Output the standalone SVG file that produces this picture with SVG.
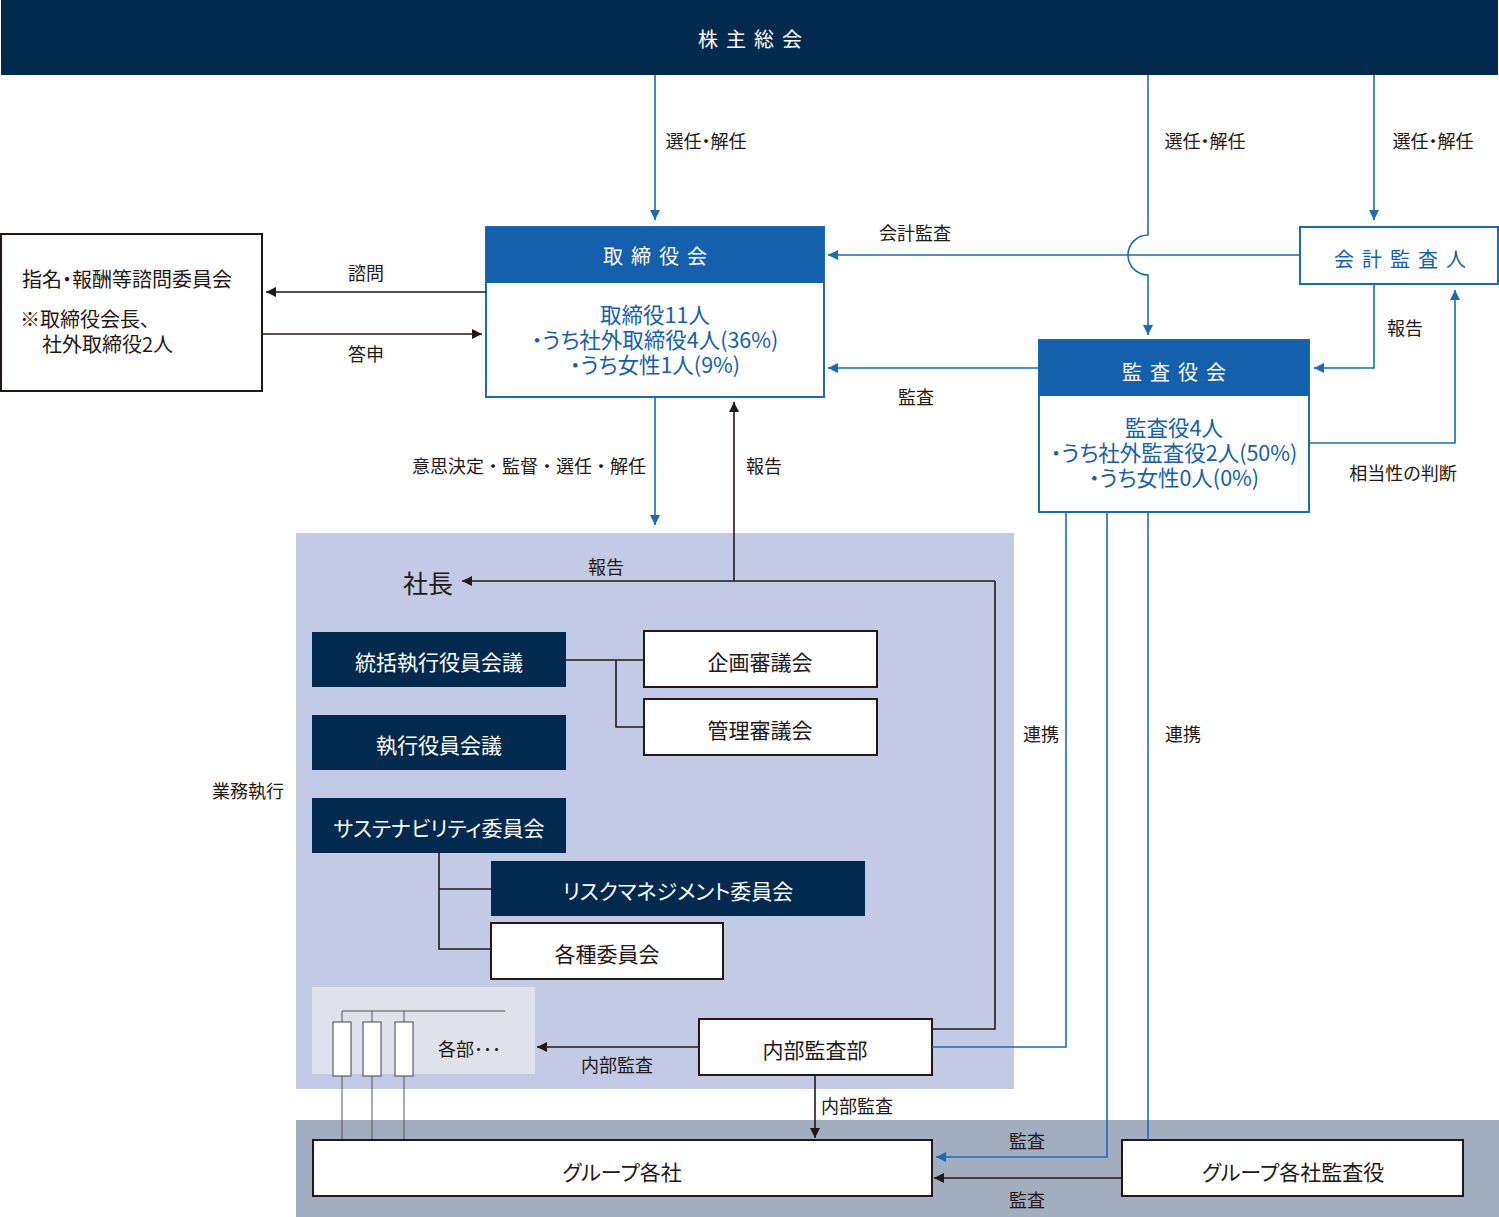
<svg xmlns="http://www.w3.org/2000/svg" width="1499" height="1217" viewBox="0 0 1499 1217">
<defs>
<style>
text{font-family:"Noto Sans CJK JP","Noto Sans",sans-serif;dominant-baseline:central;font-feature-settings:"palt";}
.lbl{font-size:18px;fill:#231815;}
.mid{text-anchor:middle;}
.wt{fill:#fff;}
.bt{fill:#1560ad;}
.bk{fill:#231815;}
.bx{font-size:21px;}
.bd{font-size:21.5px;}
.hd{font-size:20px;letter-spacing:8px;}
.bl{stroke:#1a6ab8;stroke-width:1.6;fill:none;}
.blk{stroke:#231815;stroke-width:1.6;fill:none;}
.gr{stroke:#555;stroke-width:1;fill:none;}
.navy{fill:#022a4f;}
.wbox{fill:#fff;stroke:#231815;stroke-width:2;}
</style>
<marker id="ab" viewBox="0 0 10 10" refX="10" refY="5" markerWidth="10" markerHeight="10" markerUnits="userSpaceOnUse" orient="auto"><path d="M0,0 L10,5 L0,10 z" fill="#1a6ab8"/></marker>
<marker id="ak" viewBox="0 0 10 10" refX="10" refY="5" markerWidth="10" markerHeight="10" markerUnits="userSpaceOnUse" orient="auto"><path d="M0,0 L10,5 L0,10 z" fill="#231815"/></marker>
</defs>
<rect width="1499" height="1217" fill="#fff"/>
<g id="bg-exec"><rect x="296" y="533" width="718" height="556" fill="#c3cae6"/></g>
<g id="bg-group"><rect x="296" y="1120" width="1203" height="97" fill="#a3adc0"/></g>
<g id="bg-depts"><rect x="312" y="987" width="223" height="87" fill="#dfe2ea"/></g>

<g id="n-shareholders"><rect x="1" y="0" width="1497" height="75" class="navy"/><text x="754" y="38" class="mid wt hd">株主総会</text></g>

<g id="n-board">
<rect x="486" y="227" width="338" height="170" fill="#fff" stroke="#1a6ab8" stroke-width="2"/>
<rect x="486" y="227" width="338" height="56" fill="#1560ad"/>
<text x="659" y="255" class="mid wt hd">取締役会</text>
<text x="655" y="313" class="mid bt bd">取締役11人</text>
<text x="655" y="338" class="mid bt bd">・うち社外取締役4人(36%)</text>
<text x="655" y="363" class="mid bt bd">・うち女性1人(9%)</text>
</g>

<g id="n-nomination">
<rect x="1" y="234" width="261" height="157" class="wbox"/>
<text x="22" y="278" class="bk" font-size="20">指名・報酬等諮問委員会</text>
<text x="20" y="318" class="bk" font-size="20">※取締役会長、</text>
<text x="42" y="343" class="bk" font-size="20">社外取締役2人</text>
</g>

<g id="n-accountant">
<rect x="1300" y="227" width="198" height="57" fill="#fff" stroke="#1a6ab8" stroke-width="2"/>
<text x="1404" y="258" class="mid bt hd">会計監査人</text>
</g>

<g id="n-auditboard">
<rect x="1039" y="340" width="270" height="172" fill="#fff" stroke="#1a6ab8" stroke-width="2"/>
<rect x="1039" y="340" width="270" height="56" fill="#1560ad"/>
<text x="1178" y="371" class="mid wt hd">監査役会</text>
<text x="1174" y="426" class="mid bt bd">監査役4人</text>
<text x="1174" y="451" class="mid bt bd">・うち社外監査役2人(50%)</text>
<text x="1174" y="476" class="mid bt bd">・うち女性0人(0%)</text>
</g>

<g id="n-president"><text x="403" y="582" class="bk" font-size="25">社長</text></g>

<g id="n-exec1"><rect x="312" y="632" width="254" height="55" class="navy"/><text x="439" y="661" class="mid wt bx">統括執行役員会議</text></g>
<g id="n-exec2"><rect x="312" y="715" width="254" height="55" class="navy"/><text x="439" y="744" class="mid wt bx">執行役員会議</text></g>
<g id="n-sust"><rect x="312" y="798" width="254" height="55" class="navy"/><text x="439" y="827" class="mid wt bx">サステナビリティ委員会</text></g>
<g id="n-risk"><rect x="491" y="861" width="374" height="55" class="navy"/><text x="678" y="890" class="mid wt bx">リスクマネジメント委員会</text></g>
<g id="n-plan"><rect x="644" y="631" width="233" height="56" class="wbox"/><text x="760" y="661" class="mid bk bx">企画審議会</text></g>
<g id="n-mgmt"><rect x="644" y="699" width="233" height="56" class="wbox"/><text x="760" y="729" class="mid bk bx">管理審議会</text></g>
<g id="n-various"><rect x="491" y="923" width="232" height="56" class="wbox"/><text x="607" y="953" class="mid bk bx">各種委員会</text></g>

<g id="n-depts">
<path class="gr" d="M342,1011 H505 M342,1011 V1022 M372,1011 V1022 M404,1011 V1022 M342,1076 V1140 M372,1076 V1140 M404,1076 V1140"/>
<rect x="333" y="1022" width="18" height="54" fill="#fff" stroke="#444" stroke-width="1"/>
<rect x="363" y="1022" width="18" height="54" fill="#fff" stroke="#444" stroke-width="1"/>
<rect x="395" y="1022" width="18" height="54" fill="#fff" stroke="#444" stroke-width="1"/>
<text x="438" y="1048" class="bk" font-size="18">各部･･･</text>
</g>

<g id="n-internalaudit"><rect x="699" y="1019" width="233" height="56" class="wbox"/><text x="815" y="1049" class="mid bk bx">内部監査部</text></g>
<g id="n-group"><rect x="313" y="1140" width="619" height="56" class="wbox"/><text x="622" y="1171" class="mid bk bx">グループ各社</text></g>
<g id="n-groupaudit"><rect x="1122" y="1140" width="341" height="56" class="wbox"/><text x="1293" y="1171" class="mid bk bx">グループ各社監査役</text></g>

<g id="connectors">
<path class="bl" d="M655,75 V220" marker-end="url(#ab)"/>
<path class="bl" d="M1148,75 V235 A20,20 0 0 0 1148,275 V335" marker-end="url(#ab)"/>
<path class="bl" d="M1374,75 V220" marker-end="url(#ab)"/>
<path class="blk" d="M486,292 H266" marker-end="url(#ak)"/>
<path class="blk" d="M262,334 H482" marker-end="url(#ak)"/>
<path class="bl" d="M1300,255 H828" marker-end="url(#ab)"/>
<path class="bl" d="M1039,368 H828" marker-end="url(#ab)"/>
<path class="bl" d="M1374,284 V368 H1314" marker-end="url(#ab)"/>
<path class="bl" d="M1309,443 H1455 V290" marker-end="url(#ab)"/>
<path class="bl" d="M655,397 V525" marker-end="url(#ab)"/>
<path class="blk" d="M734,581 V402" marker-end="url(#ak)"/>
<path class="blk" d="M995,581 H462" marker-end="url(#ak)"/>
<path class="blk" d="M995,581 V1029 H932"/>
<path class="blk" d="M566,660 H644 M616,660 V727 H644"/>
<path class="blk" d="M439,853 V949 H491 M439,889 H491"/>
<path class="blk" d="M699,1047 H537" marker-end="url(#ak)"/>
<path class="blk" d="M815,1075 V1138" marker-end="url(#ak)"/>
<path class="bl" d="M932,1047 H1066 V512"/>
<path class="bl" d="M1107,512 V1157 H936" marker-end="url(#ab)"/>
<path class="bl" d="M1148,512 V1140"/>
<path class="blk" d="M1122,1178 H934" marker-end="url(#ak)"/>
<text x="706" y="140" class="lbl mid">選任・解任</text>
<text x="1205" y="140" class="lbl mid">選任・解任</text>
<text x="1433" y="140" class="lbl mid">選任・解任</text>
<text x="366" y="272" class="lbl mid">諮問</text>
<text x="366" y="353" class="lbl mid">答申</text>
<text x="915" y="232" class="lbl mid">会計監査</text>
<text x="916" y="396" class="lbl mid">監査</text>
<text x="1405" y="327" class="lbl mid">報告</text>
<text x="1403" y="472" class="lbl mid">相当性の判断</text>
<text x="529" y="465" class="lbl mid" style="font-feature-settings:normal">意思決定・監督・選任・解任</text>
<text x="764" y="465" class="lbl mid">報告</text>
<text x="606" y="566" class="lbl mid">報告</text>
<text x="248" y="790" class="lbl mid">業務執行</text>
<text x="1041" y="733" class="lbl mid">連携</text>
<text x="1183" y="733" class="lbl mid">連携</text>
<text x="617" y="1064" class="lbl mid">内部監査</text>
<text x="857" y="1105" class="lbl mid">内部監査</text>
<text x="1027" y="1140" class="lbl mid">監査</text>
<text x="1027" y="1199" class="lbl mid">監査</text>
</g>
</svg>
